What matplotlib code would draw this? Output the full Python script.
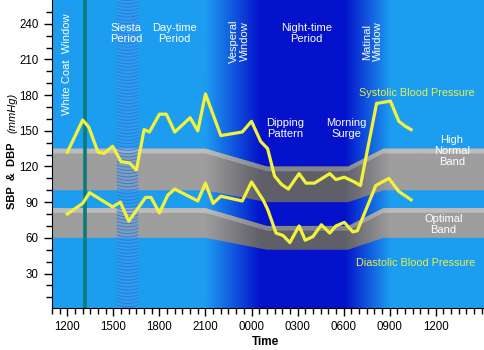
import matplotlib.pyplot as plt
import numpy as np
from matplotlib.colors import to_rgb
from matplotlib.patches import Polygon

plt.rcParams['font.family'] = ['Liberation Sans', 'DejaVu Sans']

# time in hours (12 = 1200, 24 = 0000, 36 = 1200 next day)
sys_hours = [12.0, 13.0, 13.4, 14.0, 14.4, 14.95, 15.5, 16.05, 16.5, 17.0, 17.35, 18.0,
             18.45, 19.0, 20.0, 20.5, 21.0, 22.0, 23.4, 24.0, 24.6, 25.05, 25.5, 25.95,
             26.4, 27.1, 27.55, 28.1, 29.1, 29.5, 30.05, 30.7, 31.1, 32.15, 33.05, 33.6,
             34.0, 34.4]
sys_bp = [132, 159, 153, 132, 131, 137, 124, 123, 117, 151, 149, 164,
          164, 149, 161, 150, 181, 146, 149, 158, 141, 135, 112, 105,
          101, 114, 106, 106, 114, 109, 111, 107, 104, 173, 175, 158,
          154, 151]

dia_hours = [12.0, 13.0, 13.45, 14.95, 15.45, 16.0, 17.1, 17.45, 18.0, 18.55, 19.0, 20.5,
             21.0, 21.5, 22.0, 23.4, 24.0, 24.75, 25.05, 25.6, 26.05, 26.5, 27.1, 27.5,
             28.0, 28.55, 29.1, 29.5, 30.05, 30.6, 30.9, 32.1, 32.95, 33.6, 34.4]
dia_bp = [80, 89, 98, 86, 90, 74, 94, 94, 81, 96, 101, 91,
          106, 89, 95, 91, 107, 92, 84, 64, 62, 56, 70, 58,
          61, 71, 64, 70, 73, 65, 66, 104, 110, 99, 92]

# reference bands (day -> night -> day)
band_hours = [11, 21.0, 25.0, 30.3, 32.6, 39.2]
high_top = [135, 135, 120, 120, 135, 135]
high_bottom = [100, 100, 90, 90, 100, 100]
opt_top = [85, 85, 70, 70, 85, 85]
opt_bottom = [60, 60, 50, 50, 60, 60]

x_ticks = [12, 15, 18, 21, 24, 27, 30, 33, 36]
x_labels = ['1200', '1500', '1800', '2100', '0000', '0300', '0600', '0900', '1200']

XMIN, XMAX, YMIN, YMAX = 11, 39.15, 1, 260

fig = plt.figure(figsize=(4.84, 3.5), dpi=100)
ax = fig.add_axes([52 / 484, 42 / 350, 1 - 52 / 484, 1 - 42 / 350])
ax.set_xlim(XMIN, XMAX)
ax.set_ylim(YMIN, YMAX)

# background day/night gradient
grad_x = np.linspace(XMIN, XMAX, 600)
stops = [XMIN, 21.0, 24.6, 30.1, 33.1, XMAX]


def gradient(light, dark):
    l, d = np.array(to_rgb(light)), np.array(to_rgb(dark))
    w = np.interp(grad_x, stops, [0, 0, 1, 1, 0, 0])
    return (l[None, :] * (1 - w[:, None]) + d[None, :] * w[:, None])[None, :, :]


ext = (XMIN, XMAX, YMIN, YMAX)
ax.imshow(gradient('#1d9df0', '#0412cb'), extent=ext, aspect='auto', zorder=0)


# grey bands with a lighter top edge
def band(top, bottom, base, dark_base, edge, dark_edge):
    top, bottom = np.array(top), np.array(bottom)
    poly = Polygon(np.column_stack([band_hours + band_hours[::-1],
                                    np.concatenate([top, bottom[::-1]])]),
                   closed=True, fc='none', ec='none')
    ax.add_patch(poly)
    im = ax.imshow(gradient(base, dark_base), extent=ext, aspect='auto', zorder=1)
    im.set_clip_path(poly)
    strip = Polygon(np.column_stack([band_hours + band_hours[::-1],
                                     np.concatenate([top, (top - 4)[::-1]])]),
                    closed=True, fc='none', ec='none')
    ax.add_patch(strip)
    im2 = ax.imshow(gradient(edge, dark_edge), extent=ext, aspect='auto', zorder=1.1)
    im2.set_clip_path(strip)


band(high_top, high_bottom, '#9e9e9e', '#5e5f68', '#bcbcbc', '#84858e')
band(opt_top, opt_bottom, '#9e9e9e', '#5e5f68', '#bcbcbc', '#84858e')

# siesta period stripes
sx = np.linspace(15.25, 16.6, 30)
ax.axvspan(15.25, 16.6, color='#3aa6f2', alpha=0.35, lw=0, zorder=1.5)
for y0 in np.arange(2, 260, 2.8):
    ax.plot(sx, y0 + 1.6 * ((sx - 15.925) / 0.675) ** 2, color='#3d66d6', lw=0.7,
            alpha=0.75, zorder=2)

# white coat window line
ax.axvline(13.15, color='#0b7b77', lw=2.6, zorder=2.5)

ax.plot(sys_hours, sys_bp, color='#f2f23c', lw=2.3, zorder=3)
ax.plot(dia_hours, dia_bp, color='#f2f23c', lw=2.3, zorder=3)

# annotations
wt = dict(color='white', fontsize=8, ha='center', va='center', zorder=4, linespacing=1.1)
ax.text(12.0, 206, 'White Coat  Window', rotation=90, **wt)
ax.text(15.85, 232, 'Siesta\nPeriod', **wt)
ax.text(19.0, 232, 'Day-time\nPeriod', **wt)
ax.text(23.2, 225, 'Vesperal\nWindow', rotation=90, **wt)
ax.text(27.6, 232, 'Night-time\nPeriod', **wt)
ax.text(31.9, 225, 'Matinal\nWindow', rotation=90, **wt)
ax.text(26.2, 152, 'Dipping\nPattern', **wt)
ax.text(30.2, 152, 'Morning\nSurge', **wt)
ax.text(37.05, 133, 'High\nNormal\nBand', **wt)
ax.text(36.5, 71, 'Optimal\nBand', **wt)
ax.text(34.8, 182, 'Systolic Blood Pressure', color='#e8f04a', fontsize=7.8,
        ha='center', va='center', zorder=4)
ax.text(34.7, 39, 'Diastolic Blood Pressure', color='#e8f04a', fontsize=7.8,
        ha='center', va='center', zorder=4)

# axes
for s in ['top', 'right']:
    ax.spines[s].set_visible(False)
ax.set_xticks(x_ticks)
ax.set_xticklabels(x_labels, fontsize=8.3)
ax.set_xticks(np.arange(11, 39.1, 0.5), minor=True)
ax.set_yticks(np.arange(30, 241, 30))
ax.set_yticks(np.arange(10, 251, 10), minor=True)
ax.tick_params(axis='y', labelsize=8.3)
ax.tick_params(which='major', length=6, width=1)
ax.tick_params(which='minor', length=4, width=1)

fig.text(265 / 484, 1 - 342 / 350, 'Time', fontsize=8.5, fontweight='bold',
         ha='center', va='center')
fig.text(12 / 484, 1 - 209 / 350, 'SBP  &  DBP', fontsize=8, fontweight='bold',
         rotation=90, ha='center', va='bottom')
fig.text(12 / 484, 1 - 93 / 350, '(mmHg)', fontsize=8, style='italic',
         rotation=90, ha='center', va='top')

fig.savefig('out.png', dpi=100)
